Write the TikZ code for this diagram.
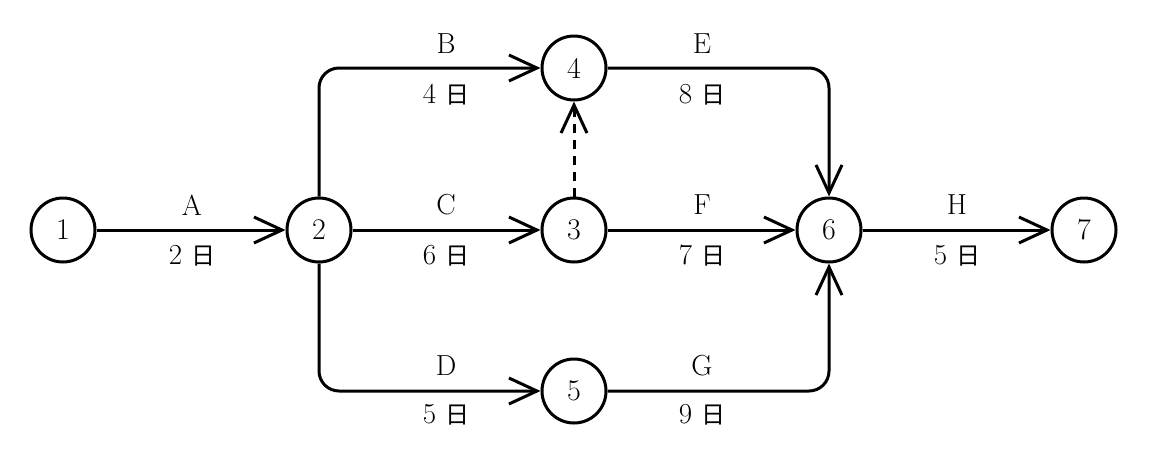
\documentclass[tikz,border=0pt]{standalone}
\usepackage{fontspec}
\newfontfamily\cjk{Noto Sans CJK JP}
\usetikzlibrary{arrows.meta}
\newcommand{\nichi}[1]{#1\hspace{9pt}{\cjk\fontsize{24pt}{26pt}\selectfont 日}}
\begin{document}
\begin{tikzpicture}[x=1pt,y=-1pt,
  ev/.style={circle,draw,line width=3pt,minimum size=64pt,inner sep=0pt,font=\fontsize{30pt}{32pt}\selectfont},
  act/.style={line width=3pt,rounded corners=20pt,-{Straight Barb[length=28pt,width=26pt]}},
  lbl/.style={font=\fontsize{29pt}{31pt}\selectfont,inner sep=0pt}]
\useasboundingbox (0,0) rectangle (1153,448);
\node[ev] (n1) at (63,230) {1};
\node[ev] (n2) at (319,230) {2};
\node[ev] (n3) at (574,230) {3};
\node[ev] (n4) at (574,68) {4};
\node[ev] (n5) at (574,391) {5};
\node[ev] (n6) at (829,230) {6};
\node[ev] (n7) at (1084,230) {7};
\draw[act] (n1) -- (n2);
\draw[act] (n2) -- (n3);
\draw[act] (n3) -- (n6);
\draw[act] (n6) -- (n7);
\draw[act] (n2.north) |- (n4.west);
\draw[act] (n2.south) |- (n5.west);
\draw[act] (n4.east) -| (n6.north);
\draw[act] (n5.east) -| (n6.south);
\draw[act,dashed,dash pattern=on 9pt off 7pt] (n3) -- (n4);
\node[lbl] (la) at (192,205) {A};
\node[lbl] (la2) at (192,256) {\nichi{2}};
\node[lbl] (lb) at (446,44) {B};
\node[lbl] (lb2) at (446,95) {\nichi{4}};
\node[lbl] (lc) at (446,205) {C};
\node[lbl] (lc2) at (446,256) {\nichi{6}};
\node[lbl] (ld) at (446,366) {D};
\node[lbl] (ld2) at (446,415) {\nichi{5}};
\node[lbl] (le) at (702,44) {E};
\node[lbl] (le2) at (702,95) {\nichi{8}};
\node[lbl] (lf) at (702,205) {F};
\node[lbl] (lf2) at (702,256) {\nichi{7}};
\node[lbl] (lg) at (702,366) {G};
\node[lbl] (lg2) at (702,415) {\nichi{9}};
\node[lbl] (lh) at (957,205) {H};
\node[lbl] (lh2) at (957,256) {\nichi{5}};
\end{tikzpicture}
\end{document}
